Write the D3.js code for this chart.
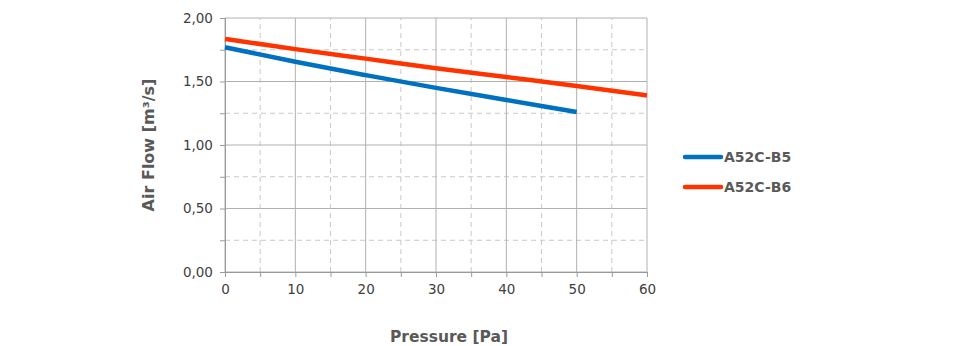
<!DOCTYPE html>
<html><head><meta charset="utf-8">
<script src="https://cdn.jsdelivr.net/npm/d3@7"></script>
<style>body{margin:0;background:#fff}svg{display:block}</style>
</head><body>
<script>
const pressure = [0, 10, 20, 30, 40, 50, 60];
const seriesNames = ["A52C-B5", "A52C-B6"];
const b5 = [1.77, 1.655, 1.55, 1.45, 1.355, 1.26];
const b6 = [1.835, 1.755, 1.68, 1.605, 1.535, 1.465, 1.39];
const xTicks = [0, 10, 20, 30, 40, 50, 60];
const yTicks = [0, 0.5, 1.0, 1.5, 2.0];
const colors = ["#0070C0", "#FF3300"];

const W = 960, H = 346;
const m = {l: 225, t: 18, r: W - 647, b: H - 272};
const svg = d3.select("body").append("svg").attr("width", W).attr("height", H);
const x = d3.scaleLinear().domain([0, 60]).range([m.l, W - m.r]);
const y = d3.scaleLinear().domain([0, 2]).range([H - m.b, m.t]);
const font = "DejaVu Sans, Verdana, sans-serif";
const grid = "#b0b0b0";

// minor dashed grid
const g = svg.append("g");
d3.range(5, 60, 10).forEach(v => g.append("line").attr("x1", x(v)).attr("x2", x(v)).attr("y1", y(0)).attr("y2", y(2))
  .attr("stroke", "#c8c8c8").attr("stroke-dasharray", "5,4"));
d3.range(0.25, 2, 0.5).forEach(v => g.append("line").attr("x1", x(0)).attr("x2", x(60)).attr("y1", y(v)).attr("y2", y(v))
  .attr("stroke", "#c8c8c8").attr("stroke-dasharray", "5,4"));
// major grid
xTicks.forEach(v => g.append("line").attr("x1", x(v)).attr("x2", x(v)).attr("y1", y(0)).attr("y2", y(2)).attr("stroke", grid));
yTicks.forEach(v => g.append("line").attr("x1", x(0)).attr("x2", x(60)).attr("y1", y(v)).attr("y2", y(v)).attr("stroke", grid));

// axes
const fmt = d => d3.format(".2f")(d).replace(".", ",");
const xa = svg.append("g").attr("transform", `translate(0,${y(0)})`)
  .call(d3.axisBottom(x).tickValues(d3.range(0, 61, 5)).tickSize(5).tickFormat(d => d % 10 === 0 ? d : ""));
const ya = svg.append("g").attr("transform", `translate(${x(0)},0)`)
  .call(d3.axisLeft(y).tickValues(d3.range(0, 2.01, 0.25)).tickSize(5).tickFormat(d => Math.abs(d * 2 - Math.round(d * 2)) < 1e-6 ? fmt(d) : ""));
[xa, ya].forEach(a => {
  a.select(".domain").attr("stroke", "#9a9a9a");
  a.selectAll(".tick line").attr("stroke", "#9a9a9a");
  a.selectAll("text").attr("fill", "#404040").style("font-family", font).style("font-size", "13.5px");
});
xa.selectAll("text").attr("dy", "1.0em");
ya.selectAll("text").attr("dx", "-0.3em");

// lines
const line = d3.line().x((d, i) => x(pressure[i])).y(d => y(d)).curve(d3.curveMonotoneX);
[b5, b6].forEach((s, i) => svg.append("path").datum(s).attr("d", line).attr("fill", "none")
  .attr("stroke", colors[i]).attr("stroke-width", 4.5));

// titles
svg.append("text").attr("x", 449).attr("y", 342).attr("text-anchor", "middle")
  .style("font-family", font).style("font-weight", "bold").style("font-size", "15.5px").attr("fill", "#595959").text("Pressure [Pa]");
svg.append("text").attr("transform", "translate(154,145) rotate(-90)").attr("text-anchor", "middle")
  .style("font-family", font).style("font-weight", "bold").style("font-size", "16px").attr("fill", "#595959").text("Air Flow [m³/s]");

// legend
seriesNames.forEach((n, i) => {
  const ly = 157 + i * 30;
  svg.append("line").attr("x1", 685).attr("x2", 721).attr("y1", ly).attr("y2", ly)
    .attr("stroke", colors[i]).attr("stroke-width", 4.5).attr("stroke-linecap", "round");
  svg.append("text").attr("x", 724).attr("y", ly + 5).style("font-family", font).style("font-weight", "bold")
    .style("font-size", "14px").attr("fill", "#595959").text(n);
});
</script>
</body></html>
